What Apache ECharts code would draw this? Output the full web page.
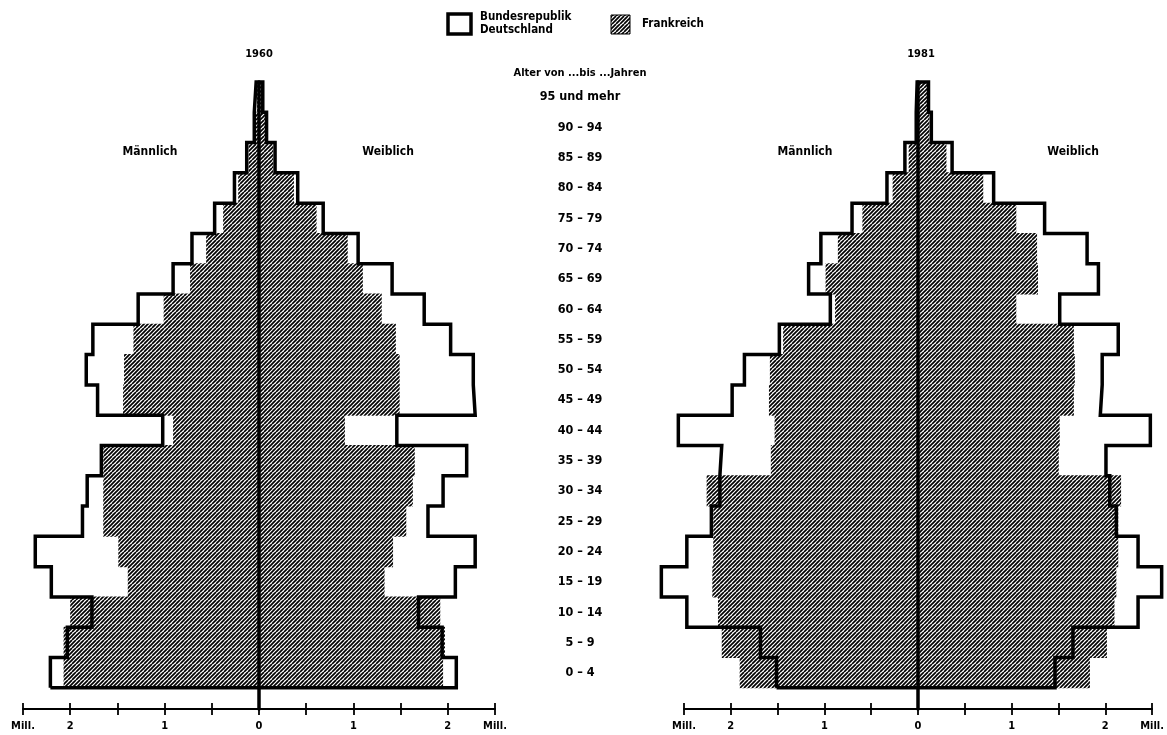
<!DOCTYPE html>
<html><head><meta charset="utf-8">
<script src="https://cdn.jsdelivr.net/npm/echarts@6/dist/echarts.min.js"></script>
<style>html,body{margin:0;padding:0;background:#fff}#c{width:1167px;height:735px}</style>
</head><body><div id="c"></div>
<script>
// Age groups (index 0 = youngest)
const ageLabels = ['0 – 4','5 – 9','10 – 14','15 – 19','20 – 24','25 – 29','30 – 34','35 – 39','40 – 44','45 – 49','50 – 54','55 – 59','60 – 64','65 – 69','70 – 74','75 – 79','80 – 84','85 – 89','90 – 94','95 und mehr'];
const ageStart = [0,5,10,15,20,25,30,35,40,45,50,55,60,65,70,75,80,85,90,95];
const ageEnd   = [5,10,15,20,25,30,35,40,45,50,55,60,65,70,75,80,85,90,95,100];

// Millions, 1960
const deMale1960   = [2.21,2.03,1.77,2.20,2.37,1.87,1.82,1.67,1.02,1.71,1.83,1.76,1.28,0.91,0.71,0.47,0.26,0.13,0.05,0.03];
const deFemale1960 = [2.09,1.94,1.69,2.08,2.29,1.79,1.95,2.20,1.46,2.29,2.27,2.03,1.75,1.41,1.05,0.68,0.41,0.17,0.08,0.04];
const frMale1960   = [2.07,2.07,2.00,1.39,1.49,1.65,1.65,1.65,0.91,1.44,1.43,1.33,1.01,0.73,0.56,0.38,0.22,0.11,0.04,0.02];
const frFemale1960 = [1.95,1.97,1.92,1.33,1.42,1.56,1.63,1.65,0.91,1.49,1.49,1.45,1.30,1.10,0.94,0.61,0.37,0.15,0.07,0.03];
// Millions, 1981
const deMale1981   = [1.52,1.69,2.47,2.74,2.47,2.21,2.12,2.10,2.56,1.99,1.86,1.49,0.95,1.18,1.05,0.72,0.35,0.16,0.04,0.03];
const deFemale1981 = [1.43,1.62,2.31,2.56,2.31,2.08,2.01,1.97,2.44,1.91,1.93,2.10,1.48,1.89,1.77,1.32,0.78,0.34,0.12,0.09];
const frMale1981   = [1.91,2.10,2.14,2.20,2.19,2.19,2.26,1.58,1.54,1.60,1.59,1.45,0.90,1.00,0.87,0.61,0.29,0.12,0.03,0.02];
const frFemale1981 = [1.80,1.98,2.06,2.08,2.10,2.10,2.13,1.47,1.48,1.63,1.64,1.63,1.02,1.25,1.24,1.02,0.67,0.28,0.10,0.08];

const FONT = '"Liberation Sans Narrow","DejaVu Sans Condensed","Roboto Condensed","Arial Narrow",Roboto,sans-serif';

function makeHatch(){
  const c = document.createElement('canvas'); c.width = 8; c.height = 8;
  const g = c.getContext('2d');
  g.fillStyle = '#fff'; g.fillRect(0,0,8,8);
  g.strokeStyle = '#000'; g.lineWidth = 1.7;
  for (let o = -8; o <= 16; o += 4) { g.beginPath(); g.moveTo(o, 8); g.lineTo(o + 8, 0); g.stroke(); }
  return c;
}
const hatch = { image: makeHatch(), repeat: 'repeat' };

function contour(male, female){
  const pts = [];
  for (let k = 0; k < male.length; k++) { pts.push([-male[k], ageStart[k]]); pts.push([-male[k], ageEnd[k]]); }
  for (let k = female.length - 1; k >= 0; k--) { pts.push([female[k], ageEnd[k]]); pts.push([female[k], ageStart[k]]); }
  pts.push([-male[0], ageStart[0]]);
  return pts;
}
function rows(male, female){ return male.map((m, k) => [k, -m, female[k]]); }

function renderRow(params, api){
  const k = api.value(0);
  const p1 = api.coord([api.value(1), ageEnd[k]]);
  const p2 = api.coord([api.value(2), ageStart[k]]);
  return { type: 'rect', shape: { x: p1[0], y: p1[1] - 0.5, width: p2[0] - p1[0], height: p2[1] - p1[1] + 1 },
           style: { fill: hatch } };
}

function labelFmt(v){
  if (Math.abs(v) === 2.5) return 'Mill.';
  if (v === 0) return '0';
  if (Math.abs(v) === 1 || Math.abs(v) === 2) return String(Math.abs(v));
  return '';
}

function xAxes(gi){
  return [
    { type: 'value', gridIndex: gi, min: -2.5, max: 2.5, interval: 0.5, position: 'bottom',
      axisLine: { show: true, onZero: false, lineStyle: { color: '#000', width: 2 } },
      axisTick: { show: true, length: 6, lineStyle: { color: '#000', width: 1.8 } },
      axisLabel: { formatter: labelFmt, margin: 12, color: '#000', fontFamily: FONT, fontWeight: 'bold', fontSize: 11 },
      splitLine: { show: false } },
    { type: 'value', gridIndex: gi, min: -2.5, max: 2.5, interval: 0.5, position: 'bottom',
      axisLine: { show: false, onZero: false },
      axisTick: { show: true, inside: true, length: 6, lineStyle: { color: '#000', width: 1.8 } },
      axisLabel: { show: false }, splitLine: { show: false } }
  ];
}
function yAxisFor(gi){
  return { type: 'value', gridIndex: gi, min: -3.5, max: 100, z: 5,
    axisLine: { show: true, onZero: true, lineStyle: { color: '#000', width: 3.5 } },
    axisTick: { show: false }, axisLabel: { show: false }, splitLine: { show: false } };
}

const txt = (t, x, y, size) => ({ type: 'text', x: x, y: y,
  style: { text: t, fill: '#000', font: 'bold ' + size + 'px ' + FONT, textAlign: 'center', textVerticalAlign: 'middle' } });

const chart = echarts.init(document.getElementById('c'), null, { renderer: 'canvas' });
chart.setOption({
  animation: false,
  backgroundColor: '#fff',
  grid: [
    { left: 23, width: 472, top: 82, height: 627 },
    { left: 684, width: 472, top: 82, height: 627 },
    { left: 580, width: 1, top: 82, height: 606 },
    // wider hidden grid (same scale as grid 1, -3 .. 2.6 Mill.) so that values beyond 2.5 Mill. are drawn
    { left: 636.8, width: 528.64, top: 82, height: 627 }
  ],
  xAxis: [].concat(xAxes(0), xAxes(1), [
    { type: 'value', gridIndex: 2, min: 0, max: 1, show: false },
    { type: 'value', gridIndex: 3, min: -3, max: 2.6, show: false }
  ]),
  yAxis: [yAxisFor(0), yAxisFor(1), {
    type: 'category', gridIndex: 2, data: ageLabels, position: 'left',
    axisLine: { show: false }, axisTick: { show: false }, splitLine: { show: false },
    axisLabel: { margin: 0, align: 'center', color: '#000', fontFamily: FONT, fontWeight: 'bold', fontSize: 12.5 },
    name: 'Alter von ...bis ...Jahren', nameLocation: 'end', nameGap: 3,
    nameTextStyle: { align: 'center', color: '#000', fontFamily: FONT, fontWeight: 'bold', fontSize: 11 }
  }, { type: 'value', gridIndex: 3, min: -3.5, max: 100, show: false }],
  series: [
    { type: 'custom', name: 'Frankreich 1960', xAxisIndex: 0, yAxisIndex: 0, z: 2, clip: false, renderItem: renderRow,
      encode: { x: [1, 2], y: 0 }, data: rows(frMale1960, frFemale1960) },
    { type: 'line', name: 'BRD 1960', xAxisIndex: 0, yAxisIndex: 0, z: 4, clip: false, showSymbol: false, symbol: 'none',
      lineStyle: { color: '#000', width: 3.5, join: 'miter' }, data: contour(deMale1960, deFemale1960) },
    { type: 'custom', name: 'Frankreich 1981', xAxisIndex: 5, yAxisIndex: 3, z: 2, clip: false, renderItem: renderRow,
      encode: { x: [1, 2], y: 0 }, data: rows(frMale1981, frFemale1981) },
    { type: 'line', name: 'BRD 1981', xAxisIndex: 5, yAxisIndex: 3, z: 4, clip: false, showSymbol: false, symbol: 'none',
      lineStyle: { color: '#000', width: 3.5, join: 'miter' }, data: contour(deMale1981, deFemale1981) }
  ],
  graphic: [
    { type: 'rect', shape: { x: 448, y: 14, width: 23, height: 20 }, style: { fill: '#fff', stroke: '#000', lineWidth: 3.5 } },
    { type: 'text', x: 480, y: 11, style: { text: 'Bundesrepublik\nDeutschland', fill: '#000', font: 'bold 11.5px ' + FONT, lineHeight: 13, textAlign: 'left', textVerticalAlign: 'top' } },
    { type: 'rect', shape: { x: 611, y: 15, width: 19, height: 19 }, style: { fill: hatch, stroke: '#000', lineWidth: 1 } },
    { type: 'text', x: 642, y: 24, style: { text: 'Frankreich', fill: '#000', font: 'bold 11.5px ' + FONT, textAlign: 'left', textVerticalAlign: 'middle' } },
    txt('1960', 259, 54, 11), txt('1981', 921, 54, 11),
    txt('Männlich', 150, 152, 12), txt('Weiblich', 388, 152, 12),
    txt('Männlich', 805, 152, 12), txt('Weiblich', 1073, 152, 12)
  ]
});
</script></body></html>
